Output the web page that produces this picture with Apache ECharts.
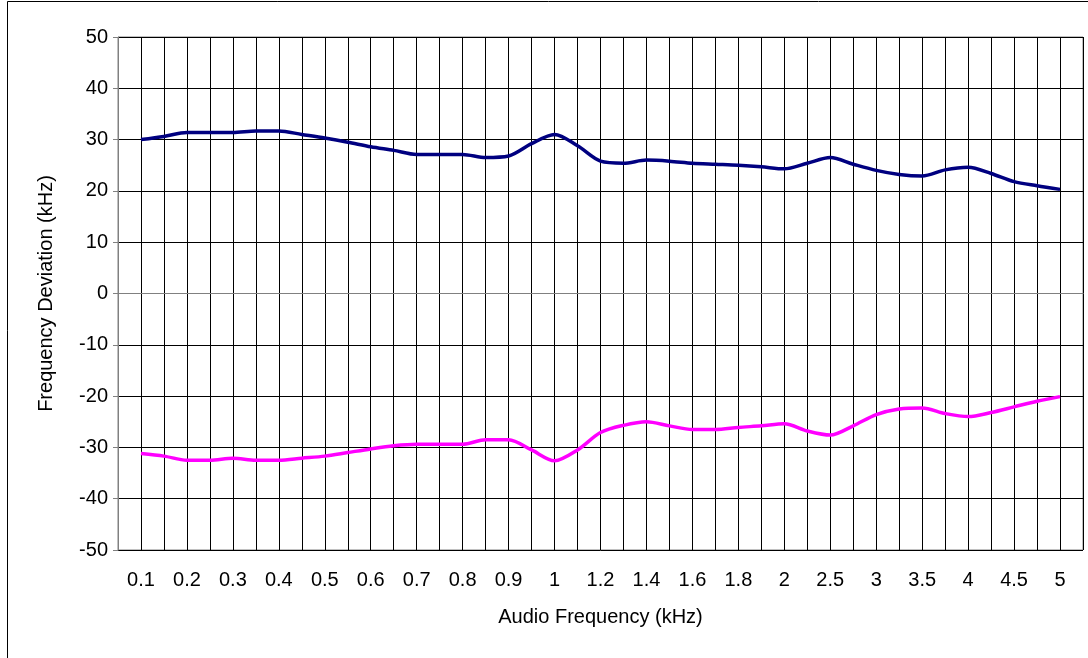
<!DOCTYPE html>
<html>
<head>
<meta charset="utf-8">
<script src="https://cdn.jsdelivr.net/npm/echarts@6/dist/echarts.min.js"></script>
<style>
  html, body { margin: 0; padding: 0; background: #fff; }
  #chart { width: 1088px; height: 658px; }
</style>
</head>
<body>
<div id="chart"></div>
<script>
// audio frequency categories (kHz), labels shown on every other one
const freqs = ['0.1','0.15','0.2','0.25','0.3','0.35','0.4','0.45','0.5','0.55',
  '0.6','0.65','0.7','0.75','0.8','0.85','0.9','0.95','1','1.1',
  '1.2','1.3','1.4','1.5','1.6','1.7','1.8','1.9','2','2.25',
  '2.5','2.75','3','3.25','3.5','3.75','4','4.25','4.5','4.75','5'];

// positive deviation (navy)
const devPos = [30.0, 30.6, 31.4, 31.4, 31.4, 31.7, 31.7, 31.0, 30.3, 29.5,
  28.6, 27.9, 27.1, 27.1, 27.1, 26.5, 26.8, 29.2, 31.0, 28.8,
  25.8, 25.4, 26.0, 25.8, 25.4, 25.2, 25.0, 24.7, 24.3, 25.4,
  26.5, 25.2, 24.0, 23.2, 22.9, 24.1, 24.6, 23.4, 21.8, 21.0, 20.3];

// negative deviation (magenta)
const devNeg = [-31.2, -31.7, -32.5, -32.5, -32.1, -32.5, -32.5, -32.1, -31.7, -31.0,
  -30.3, -29.7, -29.4, -29.4, -29.4, -28.5, -28.5, -30.5, -32.6, -30.5,
  -27.1, -25.7, -25.0, -25.8, -26.5, -26.5, -26.1, -25.8, -25.4, -26.8,
  -27.6, -25.8, -23.6, -22.5, -22.3, -23.4, -24.0, -23.2, -22.1, -21.0, -20.1];

const yTicks = { min: -50, max: 50, step: 10 };

// one blank slot at each end, like the original sheet
const cats = [''].concat(freqs, ['']);
const pad = (arr) => [null].concat(arr, [null]);

const font = 'Liberation Sans, Arial, sans-serif';
const myChart = echarts.init(document.getElementById('chart'));

option = {
  animation: false,
  textStyle: { fontFamily: font },
  graphic: [{
    type: 'rect',
    shape: { x: 7.5, y: 1.5, width: 1200, height: 800 },
    style: { fill: 'none', stroke: '#000', lineWidth: 1 },
    silent: true
  }],
  grid: {
    left: 118, right: 5, top: 37, bottom: 108,
    show: true, borderColor: '#808080', borderWidth: 1
  },
  xAxis: {
    type: 'category',
    data: cats,
    boundaryGap: false,
    name: 'Audio Frequency (kHz)',
    nameLocation: 'middle',
    nameGap: 57,
    nameTextStyle: { color: '#000', fontSize: 20, fontFamily: font },
    axisLine: { show: true, lineStyle: { color: '#808080', width: 1 } },
    axisTick: { show: false },
    axisLabel: {
      interval: (i) => i % 2 === 1,
      color: '#000', fontSize: 20, fontFamily: font, margin: 20,
      hideOverlap: false
    },
    splitLine: { show: true, interval: 0, lineStyle: { color: '#000', width: 1 } }
  },
  yAxis: {
    type: 'value',
    min: yTicks.min, max: yTicks.max, interval: yTicks.step,
    name: 'Frequency Deviation (kHz)',
    nameLocation: 'middle',
    nameGap: 62,
    nameTextStyle: { color: '#000', fontSize: 20, fontFamily: font },
    axisLine: { show: true, lineStyle: { color: '#808080', width: 1 } },
    axisTick: { show: true, length: 5, lineStyle: { color: '#808080' } },
    axisLabel: { color: '#000', fontSize: 20, fontFamily: font, margin: 10 },
    splitLine: { show: true, lineStyle: { color: '#000', width: 1 } }
  },
  series: [
    {
      name: 'positive',
      type: 'line',
      data: pad(devPos),
      smooth: 0.3,
      showSymbol: false,
      lineStyle: { color: '#000080', width: 3.5 },
      itemStyle: { color: '#000080' }
    },
    {
      name: 'negative',
      type: 'line',
      data: pad(devNeg),
      smooth: 0.3,
      showSymbol: false,
      lineStyle: { color: '#ff00ff', width: 3.5 },
      itemStyle: { color: '#ff00ff' }
    }
  ]
};

option && myChart.setOption(option);
</script>
</body>
</html>
